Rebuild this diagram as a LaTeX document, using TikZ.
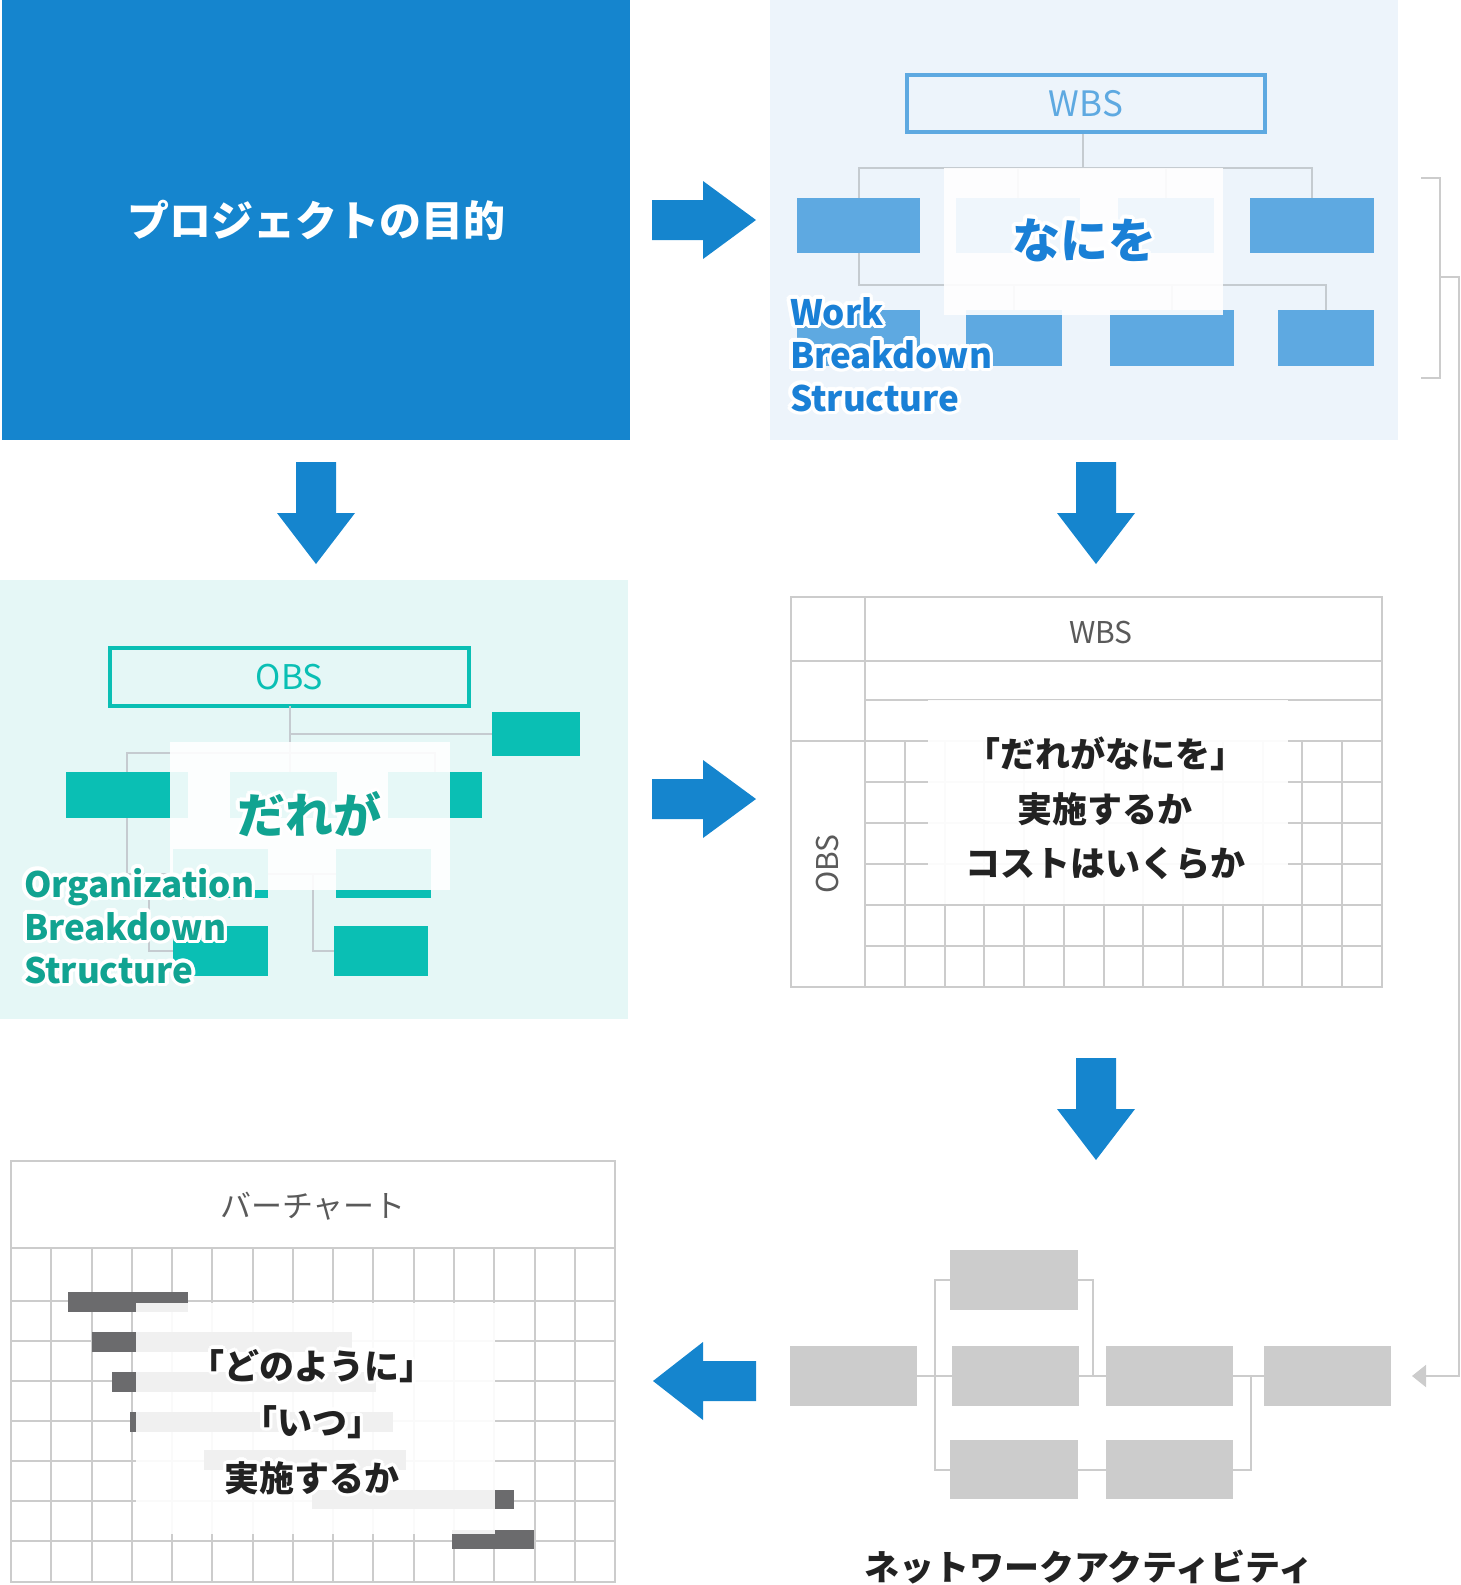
\documentclass[tikz,border=0pt]{standalone}
\usepackage{fontspec}
\setmainfont{Noto Sans CJK JP}
\usetikzlibrary{calc,arrows.meta}
\definecolor{mainblue}{HTML}{1585CE}
\definecolor{wbsbg}{HTML}{EDF4FB}
\definecolor{wbsbox}{HTML}{5EA9E1}
\definecolor{wbstext}{HTML}{1A80D6}
\definecolor{obsbg}{HTML}{E5F7F6}
\definecolor{obsbox}{HTML}{0ABFB4}
\definecolor{obstext}{HTML}{11A391}
\definecolor{treeline}{HTML}{C5CBD0}
\definecolor{gridgray}{HTML}{CCCCCC}
\definecolor{bargray}{HTML}{6B6B6D}
\definecolor{netgray}{HTML}{CCCCCC}
\definecolor{labelgray}{HTML}{5A5A5A}
\definecolor{textdark}{HTML}{222222}

% white outline behind a text: white copies around it, then the text itself
\newcommand\halonode[4]{%
  \foreach \hA in {0,22.5,...,337.5}{%
    \node[#3,text=white] at ($(#2)+(\hA:3.5)$) {#4};
    \node[#3,text=white] at ($(#2)+(\hA:1.8)$) {#4};
  }%
  \node[#3] (#1) at (#2) {#4};
}

\tikzset{
  arrR/.pic={\fill[mainblue] (0,-20) -- (51,-20) -- (51,-39) -- (104,0) -- (51,39) -- (51,20) -- (0,20) -- cycle;},
  arrD/.pic={\fill[mainblue] (-20,0) -- (20,0) -- (20,51) -- (39,51) -- (0,102) -- (-39,51) -- (-20,51) -- cycle;},
  arrL/.pic={\fill[mainblue] (0,-20) -- (-53,-20) -- (-53,-39) -- (-103,0) -- (-53,39) -- (-53,20) -- (0,20) -- cycle;},
  tline/.style={draw=treeline,line width=2pt},
  grid/.style={draw=gridgray,line width=2pt},
  wbox/.style={fill=wbsbox,minimum height=#1},
  obox/.style={fill=obsbox,minimum height=#1},
  nbox/.style={fill=netgray,minimum width=127pt,minimum height=60pt},
  veil/.style={fill=white,fill opacity=#1},
  bigjp/.style={font=\fontsize{48}{56}\selectfont\bfseries},
  engb/.style={font=\fontsize{35}{43}\selectfont\bfseries,anchor=base west},
  midjp/.style={font=\fontsize{35}{42}\selectfont\bfseries},
  thinlab/.style={font=\fontsize{#1}{#1}\selectfont}
}

\begin{document}
\begin{tikzpicture}[x=1pt,y=-1pt,every node/.style={inner sep=0pt,outer sep=0pt}]
\useasboundingbox (0,0) rectangle (1460,1585);

% ---------- project goal ----------
\fill[mainblue] (2,0) rectangle (630,440);
\node[text=white,font=\fontsize{42}{50}\selectfont\bfseries] (goal) at (316,220) {プロジェクトの目的};

% ---------- WBS panel ----------
\fill[wbsbg] (770,0) rectangle (1398,440);
\node[draw=wbsbox,line width=4pt,minimum width=358pt,minimum height=57pt,text=wbsbox,thinlab=35] (wbs) at (1086,103.5) {WBS};
\node[wbox=55pt,minimum width=123pt] (w1) at (858.5,225.5) {};
\node[wbox=55pt,minimum width=124pt] (w2) at (1018,225.5) {};
\node[wbox=55pt,minimum width=96pt]  (w3) at (1166,225.5) {};
\node[wbox=55pt,minimum width=124pt] (w4) at (1312,225.5) {};
\node[wbox=56pt,minimum width=123pt] (b1) at (858.5,338) {};
\node[wbox=56pt,minimum width=96pt]  (b2) at (1014,338) {};
\node[wbox=56pt,minimum width=124pt] (b3) at (1172,338) {};
\node[wbox=56pt,minimum width=96pt]  (b4) at (1326,338) {};
\coordinate (wroot) at (1083,134);
\draw[tline] (wroot) -- ++(0,34);
\draw[tline] (w1.north) -- ++(0,-30) -| (w4.north);
\draw[tline] (w2.north) -- ++(0,-30);
\draw[tline] (w3.north) -- ++(0,-30);
\draw[tline] (w1.south) -- ++(0,32) -| (b4.north);
\draw[tline] (b2.north) -- ++(0,-25);
\draw[tline] (b3.north) -- ++(0,-25);
\fill[veil=0.9] (944,168) rectangle (1223,315);
\halonode{nanio}{1084,240}{bigjp,text=wbstext}{なにを}
\halonode{wbsL1}{790,325}{engb,text=wbstext}{Work}
\halonode{wbsL2}{790,368}{engb,text=wbstext}{Breakdown}
\halonode{wbsL3}{790,411}{engb,text=wbstext}{Structure}

% ---------- OBS panel ----------
\fill[obsbg] (0,580) rectangle (628,1019);
\node[draw=obsbox,line width=4pt,minimum width=359pt,minimum height=58pt,text=obsbox,thinlab=34] (obs) at (289.5,677) {OBS};
\node[obox=44pt,minimum width=88pt]  (o0) at (536,734) {};
\node[obox=46pt,minimum width=122pt] (oA) at (127,795) {};
\node[obox=46pt,minimum width=107pt] (oB) at (283.5,795) {};
\node[obox=46pt,minimum width=94pt]  (oC) at (435,795) {};
\node[obox=49pt,minimum width=95pt]  (oF) at (220.5,873.5) {};
\node[obox=49pt,minimum width=95pt]  (oG) at (383.5,873.5) {};
\node[obox=50pt,minimum width=95pt]  (oD) at (220.5,951) {};
\node[obox=50pt,minimum width=94pt]  (oE) at (381,951) {};
\coordinate (oj1) at (149,873.5);
\coordinate (oj2) at (313,873.5);
\draw[tline] (obs.south) |- (o0.west);
\draw[tline] (obs.south) -- ++(0,66);
\draw[tline] (oA.north) -- ++(0,-19) -| (oC.north);
\draw[tline] (oA.south) |- (oF.west);
\draw[tline] (oF.east) -- (oG.west);
\draw[tline] (oj1) |- (oD.west);
\draw[tline] (oj2) |- (oE.west);
\fill[veil=0.9] (170,742) rectangle (450,890);
\halonode{dare}{309,814}{bigjp,text=obstext}{だれが}
\halonode{obsL1}{24,897}{engb,text=obstext}{Organization}
\halonode{obsL2}{24,940}{engb,text=obstext}{Breakdown}
\halonode{obsL3}{24,983}{engb,text=obstext}{Structure}

% ---------- matrix ----------
\foreach \k in {1,...,12} \draw[grid] ({865+\k*39.77},741) -- ({865+\k*39.77},987);
\foreach \j in {1,...,5} \draw[grid] (865,{741+\j*41}) -- (1382,{741+\j*41});
\draw[grid] (791,597) rectangle (1382,987);
\draw[grid] (865,597) -- (865,987);
\draw[grid] (791,661) -- (1382,661);
\draw[grid] (865,700) -- (1382,700);
\draw[grid] (791,741) -- (1382,741);
\node[text=labelgray,thinlab=30] (mwbs) at (1101,632) {WBS};
\node[text=labelgray,thinlab=30,rotate=90] (mobs) at (827,864) {OBS};
\fill[veil=0.92] (928,700) rectangle (1288,904);
\node[midjp,text=textdark] (mt1) at (1105,754) {「だれがなにを」};
\node[midjp,text=textdark] (mt2) at (1105,809) {実施するか};
\node[midjp,text=textdark] (mt3) at (1105,864) {コストはいくらか};

% ---------- gantt ----------
\draw[grid] (11,1161) rectangle (615,1582);
\draw[grid] (11,1248) -- (615,1248);
\foreach \j in {0,...,6} \draw[grid] (11,{1301+\j*40}) -- (615,{1301+\j*40});
\foreach \k in {1,...,14} \draw[grid] ({11+\k*40.27},1248) -- ({11+\k*40.27},1582);
\node[text=labelgray,thinlab=31] (gtitle) at (313,1206) {バーチャート};
\fill[bargray] (68,1292) rectangle (188,1312);
\fill[bargray] (92,1332) rectangle (352,1352);
\fill[bargray] (112,1372) rectangle (376,1392);
\fill[bargray] (130,1412) rectangle (393,1432);
\fill[bargray] (204,1450) rectangle (406,1470);
\fill[bargray] (312,1490) rectangle (514,1509);
\fill[bargray] (452,1530) rectangle (534,1549);
\fill[veil=0.9] (136,1303) rectangle (495,1534);
\halonode{gt1}{312,1366}{midjp,text=textdark}{「どのように」}
\halonode{gt2}{312,1422}{midjp,text=textdark}{「いつ」}
\halonode{gt3}{312,1478}{midjp,text=textdark}{実施するか}

% ---------- network ----------
\node[nbox] (n1) at (853.5,1376) {};
\node[nbox,minimum width=128pt] (nT) at (1014,1280) {};
\node[nbox] (n2) at (1015.5,1376) {};
\node[nbox] (n3) at (1169.5,1376) {};
\node[nbox] (n4) at (1327.5,1376) {};
\node[nbox,minimum width=128pt,minimum height=59pt] (nB1) at (1014,1469.5) {};
\node[nbox,minimum height=59pt] (nB2) at (1169.5,1469.5) {};
\coordinate (nj1) at (935,1376);
\coordinate (nj2) at (1093,1376);
\coordinate (nj3) at (1251,1376);
\draw[grid] (n1.east) -- (n2.west);
\draw[grid] (nj1) |- (nT.west);
\draw[grid] (nj1) |- (nB1.west);
\draw[grid] (nT.east) -| (nj2);
\draw[grid] (n2.east) -- (n3.west);
\draw[grid] (nB1.east) -- (nB2.west);
\draw[grid] (nB2.east) -| (nj3);
\draw[grid] (n3.east) -- (n4.west);
\node[midjp,text=textdark] (netlab) at (1089,1567) {ネットワークアクティビティ};

% ---------- feedback bracket ----------
\coordinate (brT) at (1421,178);
\coordinate (brB) at (1421,378);
\coordinate (fbEnd) at (1412,1376);
\draw[grid] (brT) -- (1440,178) -- (1440,378) -- (brB);
\draw[grid,-{Triangle[length=14pt,width=22pt]}] (1440,277) -- (1459,277) -- (1459,1376) -- (fbEnd);

% ---------- big arrows ----------
\pic at (652,220) {arrR};
\pic at (652,799) {arrR};
\pic at (316,462) {arrD};
\pic at (1096,462) {arrD};
\pic at (1096,1058) {arrD};
\pic at (756,1381) {arrL};
\end{tikzpicture}
\end{document}
